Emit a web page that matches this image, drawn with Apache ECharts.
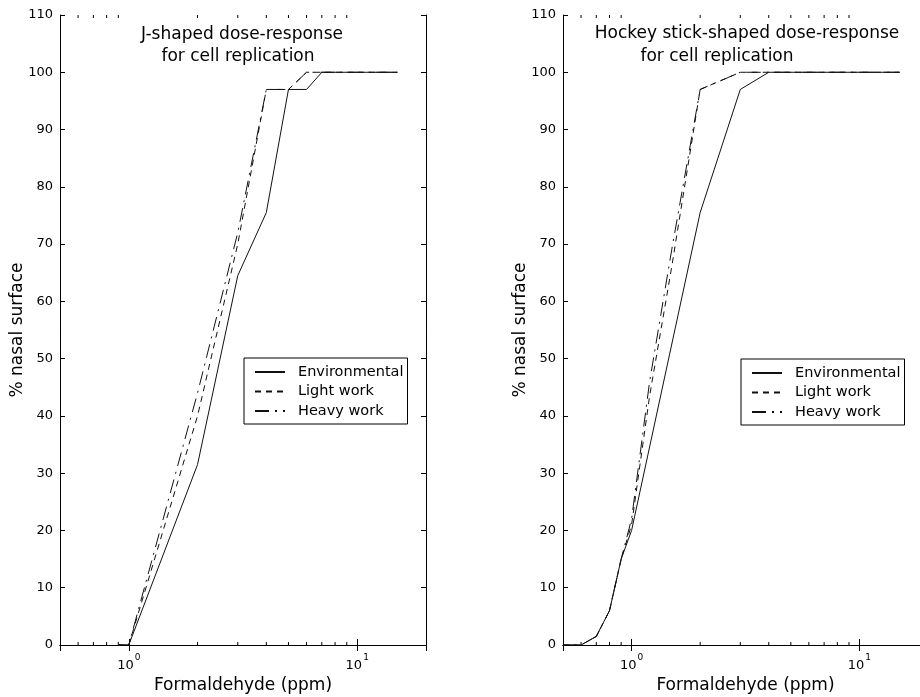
<!DOCTYPE html>
<html>
<head>
<meta charset="utf-8">
<title>Formaldehyde dose-response</title>
<script src="https://cdn.jsdelivr.net/npm/echarts@6/dist/echarts.min.js"></script>
<style>
  html, body { margin: 0; padding: 0; background: #fff; }
  #chart { width: 920px; height: 697px; }
</style>
</head>
<body>
<div id="chart"></div>
<script>
// J-shaped panel (left)
const jEnvDose = [0.9, 1, 2, 3, 4, 5, 6, 7, 15];
const jEnvironmental = [0, 0, 31.5, 64.5, 75.5, 97, 97, 100, 100];
const jWorkDose = [0.9, 1, 2, 3, 4, 5, 6, 15];
const jLightWork = [0, 0, 40, 70, 97, 97, 100, 100];
const jHeavyWork = [0, 0, 44, 72, 97, 97, 100, 100];

// Hockey stick panel (right)
const hEnvDose = [0.5, 0.6, 0.7, 0.8, 0.9, 1, 2, 3, 4, 15];
const hEnvironmental = [0, 0, 1.5, 6, 15, 20, 75.5, 97, 100, 100];
const hWorkDose = [0.5, 0.6, 0.7, 0.8, 0.9, 1, 1.2, 1.5, 2, 3, 15];
const hLightWork = [0, 0, 1.5, 6, 15, 21, 43.5, 66, 97, 100, 100];
const hHeavyWork = [0, 0, 1.5, 6, 15, 22, 46, 69, 97, 100, 100];

const seriesNames = ['Environmental', 'Light work', 'Heavy work'];
const minorTicks = [0.6, 0.7, 0.8, 0.9, 2, 3, 4, 5, 6, 7, 8, 9];
const xMin = 0.5, xMax = 20;
const yMin = 0, yMax = 110, yStep = 10;

const FONT = 'DejaVu Sans';
const INK = '#111';

const dashes = {
    'Environmental': 'solid',
    'Light work': [6, 5],
    'Heavy work': [14, 6, 2, 6]
};

const pairs = (xs, ys) => xs.map((x, i) => [x, ys[i]]);

const chart = echarts.init(document.getElementById('chart'));

function lineSeries(name, panel, xs, ys) {
    return {
        name: name,
        type: 'line',
        xAxisIndex: panel * 2,
        yAxisIndex: panel * 2,
        data: pairs(xs, ys),
        symbol: 'none',
        lineStyle: { color: INK, width: 1, type: dashes[name] },
        silent: true
    };
}

// MATLAB-style minor ticks (2..9 per decade), bottom and top of the box
function tickSeries(panel) {
    return {
        type: 'custom',
        xAxisIndex: panel * 2,
        yAxisIndex: panel * 2,
        data: minorTicks.map(v => [v, yMin]),
        silent: true,
        clip: false,
        renderItem: (params, api) => {
            const v = api.value(0);
            const b = api.coord([v, yMin]);
            const t = api.coord([v, yMax]);
            const st = { stroke: '#000', lineWidth: 1 };
            return {
                type: 'group',
                children: [
                    { type: 'line', shape: { x1: b[0], y1: b[1], x2: b[0], y2: b[1] - 3 }, style: st },
                    { type: 'line', shape: { x1: t[0], y1: t[1], x2: t[0], y2: t[1] + 3 }, style: st }
                ]
            };
        }
    };
}

const lineAxis = { show: true, lineStyle: { color: '#000', width: 1 } };

function xAxes(panel) {
    return [{
        type: 'log', logBase: 10, gridIndex: panel, position: 'bottom',
        min: xMin, max: xMax,
        name: 'Formaldehyde (ppm)', nameLocation: 'middle', nameGap: 32,
        nameMoveOverlap: false,
        nameTextStyle: { fontFamily: FONT, fontSize: 17, color: '#000' },
        axisLine: lineAxis,
        axisTick: { inside: true, length: 6, lineStyle: { color: '#000' } },
        splitLine: { show: false },
        axisLabel: {
            margin: 8,
            formatter: v => {
                const e = Math.round(Math.log10(v));
                if (Math.abs(Math.log10(v) - e) > 1e-6) return '';
                return '{b|10}{s|' + e + '}';
            },
            rich: {
                b: { fontFamily: FONT, fontSize: 13, color: '#000', verticalAlign: 'bottom' },
                s: { fontFamily: FONT, fontSize: 9, color: '#000', verticalAlign: 'top', padding: [0, 0, 10, 1] }
            }
        }
    }, {
        type: 'log', logBase: 10, gridIndex: panel, position: 'top',
        min: xMin, max: xMax,
        axisLine: lineAxis,
        axisTick: { inside: true, length: 6, lineStyle: { color: '#000' } },
        splitLine: { show: false },
        axisLabel: { show: false }
    }];
}

function yAxes(panel) {
    return [{
        type: 'value', gridIndex: panel, position: 'left',
        min: yMin, max: yMax, interval: yStep,
        name: '% nasal surface', nameLocation: 'middle', nameGap: 34, nameRotate: 90,
        nameMoveOverlap: false,
        nameTextStyle: { fontFamily: FONT, fontSize: 17, color: '#000' },
        axisLine: lineAxis,
        axisTick: { inside: true, length: 5, lineStyle: { color: '#000' } },
        splitLine: { show: false },
        axisLabel: { margin: 7, fontFamily: FONT, fontSize: 13, color: '#000' }
    }, {
        type: 'value', gridIndex: panel, position: 'right',
        min: yMin, max: yMax, interval: yStep,
        axisLine: lineAxis,
        axisTick: { inside: true, length: 5, lineStyle: { color: '#000' } },
        splitLine: { show: false },
        axisLabel: { show: false }
    }];
}

function legendBox(left, top) {
    return {
        data: seriesNames,
        orient: 'vertical',
        left: left, top: top,
        itemWidth: 30, itemHeight: 14, itemGap: 3.5,
        padding: [6, 4, 5, 10],
        borderColor: '#000', borderWidth: 1,
        backgroundColor: '#fff',
        selectedMode: false,
        itemStyle: { opacity: 0 },
        textStyle: { fontFamily: FONT, fontSize: 14.5, color: '#000', lineHeight: 16, padding: [0, 0, 0, 8] }
    };
}

function titleText(text, x, y) {
    return {
        type: 'text', x: x, y: y, silent: true,
        style: { text: text, fill: '#000', font: '17px "DejaVu Sans"', textAlign: 'center', textVerticalAlign: 'middle' }
    };
}

const options = {
    animation: false,
    backgroundColor: '#fff',
    grid: [
        { left: 60, top: 15, width: 366, height: 630, outerBoundsMode: 'none' },
        // right box runs past the page edge, as in the source figure
        { left: 563, top: 15, width: 365, height: 630, outerBoundsMode: 'none' }
    ],
    xAxis: [...xAxes(0), ...xAxes(1)],
    yAxis: [...yAxes(0), ...yAxes(1)],
    legend: [legendBox(244, 358), legendBox(741, 359)],
    graphic: [
        titleText('J-shaped dose-response', 242, 35),
        titleText('for cell replication', 238, 57),
        titleText('Hockey stick-shaped dose-response', 747, 34),
        titleText('for cell replication', 717, 57)
    ],
    series: [
        lineSeries('Environmental', 0, jEnvDose, jEnvironmental),
        lineSeries('Light work', 0, jWorkDose, jLightWork),
        lineSeries('Heavy work', 0, jWorkDose, jHeavyWork),
        lineSeries('Environmental', 1, hEnvDose, hEnvironmental),
        lineSeries('Light work', 1, hWorkDose, hLightWork),
        lineSeries('Heavy work', 1, hWorkDose, hHeavyWork),
        tickSeries(0),
        tickSeries(1)
    ]
};

chart.setOption(options);
</script>
</body>
</html>
